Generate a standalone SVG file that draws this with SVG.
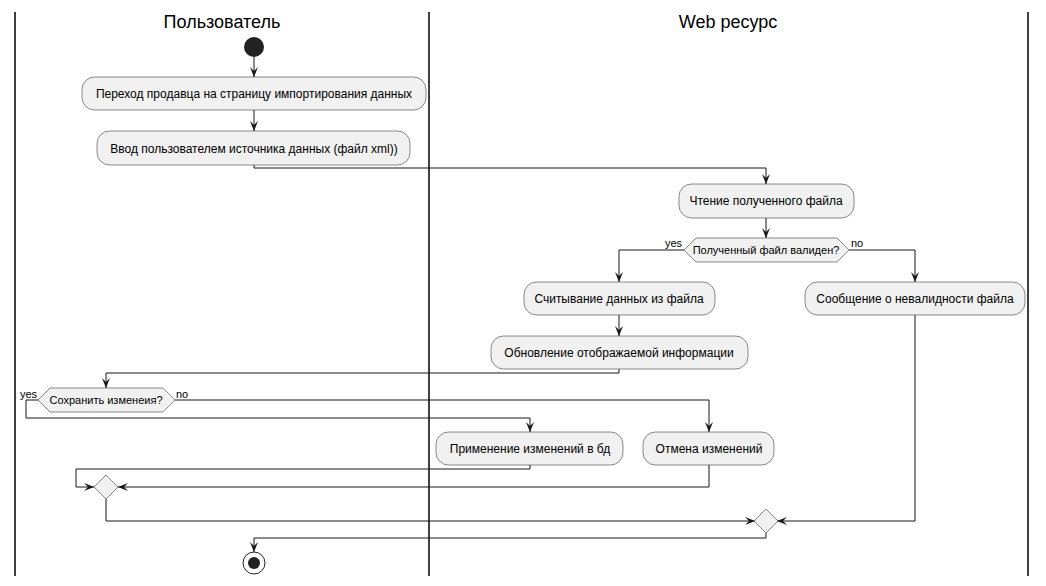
<svg xmlns="http://www.w3.org/2000/svg" width="1046" height="586" viewBox="0 0 1046 586">
<style>
.lane{stroke:#000;stroke-width:1.5;fill:none}
.title{font-family:"Liberation Sans",Arial,sans-serif;font-size:18px;fill:#000;text-anchor:middle}
.box{fill:#F1F1F1;stroke:#181818;stroke-width:0.5}
.t{font-family:"Liberation Sans",Arial,sans-serif;font-size:12px;fill:#000;text-anchor:middle}
.d{font-family:"Liberation Sans",Arial,sans-serif;font-size:11px;fill:#000;text-anchor:middle}
.lbl{font-family:"Liberation Sans",Arial,sans-serif;font-size:11px;fill:#000}
.c{fill:none;stroke:#181818;stroke-width:1;marker-end:url(#ah)}
.cn{fill:none;stroke:#181818;stroke-width:1}
</style>
<defs>
<marker id="ah" viewBox="0 0 10 8" markerWidth="10" markerHeight="8" refX="10" refY="4" orient="auto" markerUnits="userSpaceOnUse">
<path d="M0,0 L10,4 L0,8 L4,4 Z" fill="#181818"/>
</marker>
</defs>
<rect width="1046" height="586" fill="#fff"/>
<g id="lanes">
<line class="lane" x1="15" y1="12" x2="15" y2="576"/>
<line class="lane" x1="429" y1="12" x2="429" y2="576"/>
<line class="lane" x1="1028" y1="12" x2="1028" y2="576"/>
<text class="title" x="222" y="28">Пользователь</text>
<text class="title" x="728" y="28">Web ресурс</text>
</g>
<g id="connectors">
<path class="c" d="M254,57 V77"/>
<path class="c" d="M254,110 V131"/>
<path class="c" d="M254,165 V168 H766 V184"/>
<path class="c" d="M766,218 V238"/>
<path class="c" d="M684,250 H619 V282"/>
<path class="c" d="M849,250 H915 V282"/>
<path class="c" d="M619,315 V336"/>
<path class="c" d="M619,369 V373 H106 V388"/>
<path class="c" d="M175,400 H709 V432"/>
<path class="c" d="M38,400 H26 V418 H530 V432"/>
<path class="c" d="M530,465 V469 H76 V487 H94"/>
<path class="c" d="M709,465 V487 H118"/>
<path class="c" d="M106,499 V521 H755"/>
<path class="c" d="M915,315 V521 H777"/>
<path class="c" d="M766,533 V538 H254 V552"/>
<text class="lbl" x="682" y="247" text-anchor="end">yes</text>
<text class="lbl" x="851" y="247">no</text>
<text class="lbl" x="37" y="398" text-anchor="end">yes</text>
<text class="lbl" x="176" y="398">no</text>
</g>
<g id="start"><circle cx="254" cy="47" r="10" fill="#222"/></g>
<g id="n1"><rect class="box" x="82" y="77" width="344" height="33" rx="12.5"/><text class="t" x="254" y="98">Переход продавца на страницу импортирования данных</text></g>
<g id="n2"><rect class="box" x="97" y="131" width="313" height="34" rx="12.5"/><text class="t" x="254" y="153">Ввод пользователем источника данных (файл xml))</text></g>
<g id="n3"><rect class="box" x="679" y="184" width="175" height="34" rx="12.5"/><text class="t" x="766" y="205">Чтение полученного файла</text></g>
<g id="d1"><polygon class="box" points="684,250 696,238 837,238 849,250 837,262 696,262"/><text class="d" x="766" y="254">Полученный файл валиден?</text></g>
<g id="n4"><rect class="box" x="524" y="282" width="191" height="33" rx="12.5"/><text class="t" x="619" y="303">Считывание данных из файла</text></g>
<g id="n5"><rect class="box" x="805" y="282" width="220" height="33" rx="12.5"/><text class="t" x="915" y="303">Сообщение о невалидности файла</text></g>
<g id="n6"><rect class="box" x="491" y="336" width="257" height="33" rx="12.5"/><text class="t" x="619" y="357">Обновление отображаемой информации</text></g>
<g id="d2"><polygon class="box" points="38,400 50,388 163,388 175,400 163,412 50,412"/><text class="d" x="106" y="404">Сохранить изменеия?</text></g>
<g id="n7"><rect class="box" x="436" y="432" width="187" height="33" rx="12.5"/><text class="t" x="530" y="453">Применение изменений в бд</text></g>
<g id="n8"><rect class="box" x="643" y="432" width="131" height="33" rx="12.5"/><text class="t" x="709" y="453">Отмена изменений</text></g>
<g id="m1"><polygon class="box" points="106,475 118,487 106,499 94,487"/></g>
<g id="m2"><polygon class="box" points="766,509 778,521 766,533 754,521"/></g>
<g id="end"><circle cx="254" cy="563" r="11" fill="none" stroke="#222" stroke-width="1"/><circle cx="254" cy="563" r="6" fill="#222"/></g>
</svg>
